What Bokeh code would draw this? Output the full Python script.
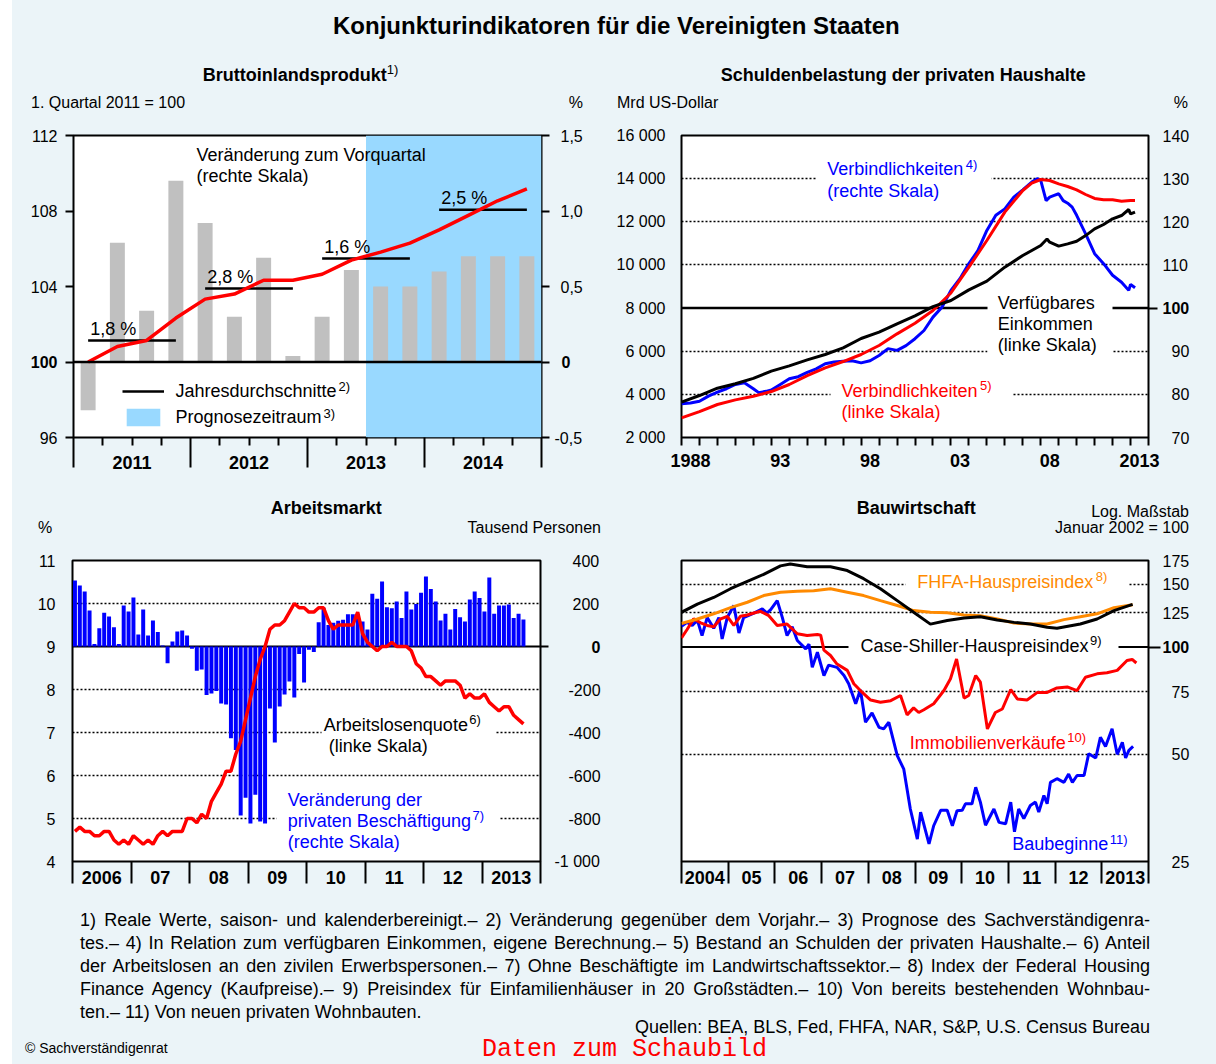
from bokeh.plotting import figure
from bokeh.models import (Range1d, LinearAxis, LogAxis, FixedTicker, Span, Label, LabelSet,
                          ColumnDataSource, BoxAnnotation, Legend, LegendItem, Div,
                          CustomJSTickFormatter)
from bokeh.layouts import column, row
from bokeh.core.properties import value
from bokeh.embed import file_html
from bokeh.resources import INLINE

BG = "#EBF4F8"
FONT = "Liberation Sans"
RED = "#FF0000"
BLUE = "#0000FF"
ORANGE = "#FF8A00"
GREY = "#C0C0C0"
SKY = "#99D9FF"

# ------------------------------------------------------------------ data
# Bruttoinlandsprodukt (Q1 2011 - Q4 2014)
gdp_year = [2011, 2011, 2011, 2011, 2012, 2012, 2012, 2012, 2013, 2013, 2013, 2013, 2014, 2014, 2014, 2014]
gdp_quarter = [1, 2, 3, 4, 1, 2, 3, 4, 1, 2, 3, 4, 1, 2, 3, 4]
gdp_change = [-0.32, 0.79, 0.34, 1.20, 0.92, 0.30, 0.69, 0.04, 0.30, 0.61, 0.50, 0.50, 0.60, 0.70, 0.70, 0.70]
gdp_index = [100.0, 100.82, 101.14, 102.33, 103.33, 103.6, 104.33, 104.33, 104.65, 105.4, 105.82, 106.3,
             107.0, 107.77, 108.54, 109.17]
avg_year = [2011, 2012, 2013, 2014]
avg_level = [101.14, 103.90, 105.49, 108.07]
avg_text = ["1,8 %", "2,8 %", "1,6 %", "2,5 %"]
forecast_from = (2013, 3)
gdp_ticks = [96, 100, 104, 108, 112]
pct_ticks = [1.5, 1.0, 0.5, 0, -0.5]
pct_text = ["1,5", "1,0", "0,5", "0", "-0,5"]
gdp_year_text = ["2011", "2012", "2013", "2014"]

# Schuldenbelastung der privaten Haushalte
inc_year = [1988, 1989, 1990, 1991, 1992, 1993, 1994, 1995, 1996, 1997, 1998, 1999, 2000, 2001, 2002, 2003,
            2004, 2005, 2006, 2007, 2008, 2008.35, 2008.5, 2009, 2009.5, 2010, 2010.5, 2011, 2011.5, 2012,
            2012.5, 2012.9, 2013.0, 2013.25]
inc_val = [3640, 3946, 4286, 4490, 4740, 5075, 5322, 5600, 5847, 6156, 6590, 6882, 7270, 7640, 8070, 8350,
           8845, 9247, 9896, 10437, 10900, 11200, 11055, 10870, 10977, 11100, 11360, 11670, 11874, 12137,
           12290, 12570, 12370, 12450]
debt_year = [1988, 1989, 1990, 1991, 1992, 1993, 1994, 1995, 1996, 1997, 1998, 1999, 2000, 2001, 2002, 2003,
             2004, 2005, 2006, 2007, 2007.5, 2008, 2008.5, 2009, 2009.5, 2010, 2010.5, 2011, 2011.5, 2012,
             2012.5, 2013, 2013.25]
debt_val = [2910, 3200, 3530, 3745, 3915, 4130, 4456, 4870, 5230, 5522, 5847, 6264, 6805, 7300, 7887, 8700,
            9896, 11132, 12446, 13450, 13790, 13960, 13914, 13760, 13636, 13480, 13265, 13080, 13020, 13020,
            12955, 12987, 12987]
ratio_year = [1988, 1988.5, 1989, 1989.5, 1990, 1990.5, 1991, 1991.5, 1992, 1992.3, 1992.7, 1993, 1993.5,
              1994, 1994.5, 1995, 1995.5, 1996, 1996.5, 1997, 1997.5, 1998, 1998.5, 1999, 1999.5, 2000,
              2000.5, 2001, 2001.5, 2002, 2002.5, 2003, 2003.5, 2004, 2004.5, 2005, 2005.5, 2006, 2006.5,
              2007, 2007.5, 2007.8, 2008, 2008.3, 2008.5, 2008.75, 2009, 2009.25, 2009.5, 2009.75, 2010,
              2010.5, 2011, 2011.5, 2012, 2012.5, 2012.9, 2013, 2013.25]
ratio_val = [77.8, 78.0, 78.4, 79.6, 80.5, 81.3, 82.3, 82.7, 81.3, 80.4, 80.7, 81.0, 82.3, 83.6, 84.1, 85.1,
             85.9, 87.1, 87.5, 87.7, 87.8, 87.3, 87.8, 89.0, 90.6, 90.2, 91.3, 92.9, 94.8, 97.9, 100.2,
             104.1, 106.8, 110.3, 113.3, 118.0, 121.5, 123.0, 125.7, 127.4, 129.2, 130.0, 129.6, 124.9,
             125.7, 126.1, 126.5, 124.9, 124.3, 123.4, 121.5, 117.2, 112.6, 110.3, 107.6, 106.0, 104.1,
             105.5, 104.7]
debt_ticks = [2000, 4000, 6000, 8000, 10000, 12000, 14000, 16000]
ratio_ticks = [140, 130, 120, 110, 100, 90, 80, 70]
debt_year_ticks = [1988, 1993, 1998, 2003, 2008, 2013]
debt_year_text = ["1988", "93", "98", "03", "08", "2013"]

# Arbeitsmarkt (monthly, Jan 2006 - Sep 2013)
emp_start = 2006
emp_change = [307, 284, 256, 167, 12, 85, 157, 140, 90, 12, 191, 163,
              228, 56, 172, 51, 121, 67, 5, -78, 23, 70, 74, 51,
              -10, -113, -107, -225, -219, -207, -265, -270, -427, -481, -786, -703,
              -823, -690, -814, -823, -288, -447, -279, -223, -163, -237, -35, -168,
              -15, -26, 113, 180, 100, 110, 120, 125, 150, 150, 130, 116,
              79, 245, 222, 302, 183, 178, 209, 132, 256, 172, 198, 250,
              326, 267, 209, 121, 152, 79, 175, 136, 116, 219, 256, 226,
              163, 321, 152, 191, 191, 195, 132, 152, 126]
unemp_rate = [4.7, 4.8, 4.7, 4.7, 4.6, 4.6, 4.7, 4.7, 4.5, 4.4, 4.5, 4.4,
              4.6, 4.5, 4.4, 4.5, 4.4, 4.6, 4.7, 4.6, 4.7, 4.7, 4.7, 5.0,
              5.0, 4.9, 5.1, 5.0, 5.4, 5.6, 5.8, 6.1, 6.1, 6.5, 6.8, 7.3,
              7.8, 8.3, 8.7, 9.0, 9.4, 9.5, 9.5, 9.6, 9.8, 10.0, 9.9, 9.9,
              9.8, 9.8, 9.9, 9.9, 9.6, 9.4, 9.5, 9.5, 9.5, 9.5, 9.8, 9.3,
              9.1, 9.0, 8.9, 9.0, 9.0, 9.1, 9.0, 9.0, 9.0, 8.9, 8.6, 8.5,
              8.3, 8.3, 8.2, 8.1, 8.2, 8.2, 8.2, 8.1, 7.8, 7.9, 7.8, 7.8,
              7.9, 7.7, 7.6, 7.5, 7.6, 7.6, 7.4, 7.3, 7.2]
rate_ticks = [4, 5, 6, 7, 8, 9, 10, 11]
emp_ticks = [400, 200, 0, -200, -400, -600, -800, -1000]
emp_text = ["400", "200", "0", "-200", "-400", "-600", "-800", "-1 000"]
lab_year_text = ["2006", "07", "08", "09", "10", "11", "12", "2013"]

# Bauwirtschaft (Januar 2002 = 100, log scale)
cs_year = [2004.00, 2004.34, 2004.69, 2005.05, 2005.41, 2005.76, 2006.12, 2006.33, 2006.69, 2007.19, 2007.55,
           2007.90, 2008.26, 2008.62, 2008.97, 2009.33, 2009.69, 2010.05, 2010.40, 2010.76, 2011.12, 2011.47,
           2011.83, 2012.04, 2012.54, 2012.90, 2013.26, 2013.66]
cs_val = [125.2, 132.0, 137.8, 145.8, 153.0, 160.0, 169.0, 171.0, 168.0, 168.0, 164.0, 155.6, 145.8, 135.0,
          125.2, 116.0, 118.7, 120.7, 121.7, 119.1, 117.3, 116.1, 113.6, 113.0, 116.1, 119.9, 126.5, 131.8]
fhfa_year = [2004.00, 2004.34, 2004.69, 2005.05, 2005.41, 2005.76, 2006.12, 2006.48, 2006.83, 2007.19, 2007.55,
             2007.90, 2008.26, 2008.62, 2008.97, 2009.33, 2009.69, 2010.05, 2010.40, 2010.76, 2011.12, 2011.47,
             2011.83, 2012.19, 2012.54, 2012.90, 2013.26, 2013.66]
fhfa_val = [116.5, 119.9, 124.0, 129.0, 133.6, 139.5, 142.6, 143.5, 144.0, 145.8, 142.6, 139.5, 135.0, 130.8,
            126.6, 125.2, 124.8, 123.0, 122.5, 119.9, 116.8, 116.1, 116.1, 119.4, 121.7, 124.0, 129.0, 131.5]
sales_year = [2004.00, 2004.12, 2004.26, 2004.41, 2004.55, 2004.69, 2004.84, 2004.98, 2005.12, 2005.26,
              2005.41, 2005.55, 2005.69, 2005.87, 2006.05, 2006.26, 2006.48, 2006.69, 2006.91, 2006.98,
              2007.05, 2007.19, 2007.33, 2007.55, 2007.69, 2007.83, 2008.05, 2008.26, 2008.48, 2008.69,
              2008.83, 2008.97, 2009.08, 2009.19, 2009.40, 2009.62, 2009.76, 2009.89, 2010.05, 2010.15,
              2010.30, 2010.40, 2010.55, 2010.72, 2010.87, 2011.05, 2011.19, 2011.40, 2011.62, 2011.83,
              2012.04, 2012.26, 2012.47, 2012.65, 2012.90, 2013.11, 2013.33, 2013.54, 2013.65, 2013.74]
sales_val = [106, 112, 120, 117, 115, 114, 120, 122, 115, 122, 123, 124.6, 126, 122.5, 115, 116, 109, 107.7,
             108.5, 108, 98, 94.7, 89.6, 86, 78.9, 75.5, 71, 70, 70.7, 73.1, 64.5, 67.5, 65.5, 66.7, 69.3,
             75.5, 81.5, 92.6, 71.9, 73.1, 83.2, 79.7, 58.9, 65.5, 67, 76, 71.5, 71, 74.6, 74.6, 76.8, 77.3,
             75.5, 82.3, 84.1, 84.7, 86, 91.7, 92.3, 90.2]
starts_year = [2004.00, 2004.12, 2004.23, 2004.34, 2004.44, 2004.55, 2004.69, 2004.80, 2004.87, 2004.98,
               2005.12, 2005.23, 2005.33, 2005.55, 2005.73, 2005.83, 2005.91, 2006.05, 2006.16, 2006.26,
               2006.37, 2006.48, 2006.66, 2006.73, 2006.80, 2006.91, 2007.05, 2007.15, 2007.33, 2007.48,
               2007.58, 2007.73, 2007.83, 2007.94, 2008.08, 2008.23, 2008.33, 2008.44, 2008.62, 2008.76,
               2008.90, 2009.05, 2009.12, 2009.30, 2009.40, 2009.55, 2009.69, 2009.80, 2009.90, 2010.01,
               2010.08, 2010.22, 2010.30, 2010.40, 2010.51, 2010.69, 2010.80, 2010.94, 2011.05, 2011.13,
               2011.22, 2011.33, 2011.47, 2011.58, 2011.65, 2011.76, 2011.83, 2011.90, 2012.04, 2012.19,
               2012.29, 2012.37, 2012.47, 2012.62, 2012.72, 2012.87, 2012.97, 2013.08, 2013.22, 2013.33,
               2013.44, 2013.51, 2013.58, 2013.67]
starts_val = [114.4, 117.3, 114.9, 119, 107.7, 121, 112.9, 121, 105.4, 121, 130.8, 109.5, 121, 124.6, 128,
              124.6, 127.4, 135, 121, 107.7, 114, 104.3, 98.8, 101.9, 87.7, 96.7, 83.2, 89, 87.7, 83.2,
              78.9, 69.3, 75.9, 61.5, 65.3, 59.5, 58.9, 61.5, 49.6, 45.4, 35.1, 28.9, 34.4, 28, 31.5, 34.8,
              34.8, 31.5, 34.7, 34.8, 36.3, 36.3, 40.4, 36.7, 31.6, 35.1, 32.2, 31.9, 36.7, 30.3, 35.1, 33,
              35.9, 36.7, 34.4, 38.3, 36.3, 41.7, 42.7, 41.7, 44, 41.7, 43.6, 43.6, 50.2, 48.8, 55.8, 52.6,
              59, 50, 54, 48.8, 51.3, 52.6]
bau_ticks = [175, 150, 125, 100, 75, 50, 25]
bau_year_text = ["2004", "05", "06", "07", "08", "09", "10", "11", "12", "2013"]

footnotes = [
    "1) Reale Werte, saison- und kalenderbereinigt.\u2013 2) Veränderung gegenüber dem Vorjahr.\u2013 3) Prognose des Sachverständigenra-",
    "tes.\u2013 4) In Relation zum verfügbaren Einkommen, eigene Berechnung.\u2013 5) Bestand an Schulden der privaten Haushalte.\u2013 6) Anteil",
    "der Arbeitslosen an den zivilen Erwerbspersonen.\u2013 7) Ohne Beschäftigte im Landwirtschaftssektor.\u2013 8) Index der Federal Housing",
    "Finance Agency (Kaufpreise).\u2013 9) Preisindex für Einfamilienhäuser in 20 Großstädten.\u2013 10) Von bereits bestehenden Wohnbau-",
    "ten.\u2013 11) Von neuen privaten Wohnbauten.",
]
sources = "Quellen: BEA, BLS, Fed, FHFA, NAR, S&amp;P, U.S. Census Bureau"

# ------------------------------------------------------------------ helpers
W_REG = {' ': 278, '(': 333, ')': 333, ',': 278, '-': 333, '.': 278, '%': 889, '=': 584, ':': 278,
         'A': 667, 'B': 667, 'C': 722, 'D': 722, 'E': 667, 'F': 611, 'G': 778, 'H': 722, 'I': 278,
         'J': 500, 'K': 667, 'L': 556, 'M': 833, 'N': 722, 'O': 778, 'P': 667, 'Q': 778, 'R': 722,
         'S': 667, 'T': 611, 'U': 722, 'V': 667, 'W': 944,
         'a': 556, 'b': 556, 'c': 500, 'd': 556, 'e': 556, 'f': 278, 'g': 556, 'h': 556, 'i': 222,
         'j': 222, 'k': 500, 'l': 222, 'm': 833, 'n': 556, 'o': 556, 'p': 556, 'q': 556, 'r': 333,
         's': 500, 't': 278, 'u': 556, 'v': 500, 'w': 722, 'x': 500, 'y': 500, 'z': 500,
         'ä': 556, 'ö': 556, 'ü': 556, 'ß': 611}


def tw(s, size):
    return sum(W_REG.get(ch, 556) for ch in s) * size / 1000.0


BLANK = CustomJSTickFormatter(code="return ''")
LEFT0 = 12          # white strip left of the chart
TOTAL_W = 1204
PAD = 3.6           # extra extent bokeh adds to each labelled vertical axis


def key(v):
    return int(v) if float(v).is_integer() else v


def setup_axis(ax, ticks, texts=None, tick_out=0, standoff=0, size="16px", bold=False,
               minor=None, minor_out=0):
    ax.ticker = FixedTicker(ticks=ticks, minor_ticks=minor or [])
    ax.major_tick_out = tick_out
    ax.major_tick_in = 0
    ax.major_tick_line_width = 2
    ax.major_tick_line_color = "black" if tick_out > 0 else None
    ax.minor_tick_in = 0
    ax.minor_tick_out = minor_out
    ax.minor_tick_line_width = 2
    ax.minor_tick_line_color = "black" if minor_out > 0 else None
    ax.axis_line_color = None
    ax.major_label_text_font = FONT
    ax.major_label_text_color = "black"
    ax.major_label_standoff = standoff
    ax.major_label_text_font_style = "bold" if bold else "normal"
    if texts is None:
        ax.formatter = BLANK
        ax.major_label_text_font_size = "0px"
    else:
        ax.major_label_text_font_size = size
        ax.major_label_overrides = {key(v): t for v, t in zip(ticks, texts)}


def stack_axes(p, side, groups, y_range_name="default", log=False, first=None):
    """groups: (ticks, texts, tick_out, bold, anchor) ; anchor = label edge nearest to the frame
    measured from the frame (left edge for right axes, right edge for left axes)."""
    C = 0.0
    for i, (ticks, texts, tick_out, bold, anchor) in enumerate(groups):
        W = max(tw(t, 16) for t in texts)
        s = int(round(anchor - C - tick_out))
        if i == 0 and first is not None:
            ax = first
        else:
            ax = (LogAxis if log else LinearAxis)(y_range_name=y_range_name)
        setup_axis(ax, ticks, texts, tick_out=tick_out, standoff=s, bold=bold)
        if not (i == 0 and first is not None):
            p.add_layout(ax, side)
        C += tick_out + s + W + PAD


def right_groups(ticks, texts, bold_val, tick_vals, tick_out, R):
    """Right-aligned labels at distance R from the frame, built from width groups."""
    groups = []
    bt = [t for v, t in zip(ticks, texts) if v == bold_val][0]
    groups.append((tick_vals, [bt if v == bold_val else "" for v in tick_vals], tick_out, True,
                   R - tw(bt, 16)))
    widths = {}
    for v, t in zip(ticks, texts):
        if v == bold_val:
            continue
        widths.setdefault(round(tw(t, 16), 1), []).append((v, t))
    for w in sorted(widths, reverse=True):
        vs = [v for v, _ in widths[w]]
        ts = [t for _, t in widths[w]]
        groups.append((vs, ts, 0, False, R - w))
    return groups


def make_fig(fw, fh, bl, br, bt, bb, xr, yr, ytype="linear"):
    p = figure(frame_width=fw, frame_height=fh, min_border_left=bl, min_border_right=br,
               min_border_top=bt, min_border_bottom=bb, x_range=Range1d(*xr), y_range=Range1d(*yr),
               y_axis_type=ytype, output_backend="svg", toolbar_location=None, tools="",
               background_fill_color="white", border_fill_color=BG,
               outline_line_color="black", outline_line_width=2)
    p.xgrid.visible = False
    p.ygrid.visible = False
    return p


def grid(p, ticks):
    g = p.ygrid[0]
    g.visible = True
    g.ticker = FixedTicker(ticks=ticks)
    g.grid_line_color = "black"
    g.grid_line_dash = "2 2"
    g.grid_line_width = 1.5


class Panel:
    def __init__(self, p, fl, fb):
        self.p, self.fl, self.fb = p, fl, fb

    def text(self, X, Y, t, size=18, color="black", align="left"):
        self.p.add_layout(Label(x=X - self.fl, y=self.fb - Y, x_units="screen", y_units="screen",
                                text=t, text_font=FONT, text_font_size=f"{size}px",
                                text_color=color, text_align=align, text_baseline="middle"))

    def text_sup(self, X, Y, t, s, size=18, color="black"):
        self.text(X, Y, t, size, color)
        self.text(X + tw(t, size) + 1.5, Y - 5, s, 13, color)

    def gap(self, X0, Y0, X1, Y1):
        self.p.add_layout(BoxAnnotation(left=X0 - self.fl, right=X1 - self.fl,
                                        top=self.fb - Y0, bottom=self.fb - Y1,
                                        left_units="screen", right_units="screen",
                                        top_units="screen", bottom_units="screen",
                                        fill_color="white", fill_alpha=1.0, line_color=None,
                                        level="underlay"))


# HTML text helpers (page coordinates -> div coordinates)
CSSF = "font-family:'Liberation Sans',Arial,sans-serif;"


def htext(X, Yc, y0, t, size=16, bold=False, align="left", color="#000"):
    top = Yc - y0 - 0.5885 * size
    lh = 1.2 * size
    fw = "bold" if bold else "normal"
    if align == "right":
        pos = f"right:{TOTAL_W - (X - LEFT0)}px;"
    else:
        pos = f"left:{X - LEFT0}px;"
    return (f'<div style="position:absolute;{pos}top:{top:.1f}px;{CSSF}font-size:{size}px;'
            f'font-weight:{fw};line-height:{lh:.1f}px;white-space:nowrap;color:{color};">{t}</div>')


def sup(t):
    return f'<span style="font-size:13px;position:relative;top:-7px;font-weight:normal;">{t}</span>'


def box(height, inner):
    return (f'<div style="position:relative;width:{TOTAL_W}px;height:{height}px;background:{BG};'
            f'overflow:hidden;">{inner}</div>')


# ------------------------------------------------------------------ panel 1: BIP
gdp_x = [y + (q - 0.5) / 4 for y, q in zip(gdp_year, gdp_quarter)]
x_lo, x_hi = gdp_year[0], gdp_year[-1] + 1
tl = make_fig(468, 302, 61, 71, 10, 53, (x_lo, x_hi), (gdp_ticks[0], gdp_ticks[-1]))
tl.extra_y_ranges = {"pct": Range1d(pct_ticks[-1], pct_ticks[0])}
P1 = Panel(tl, 73, 437)

fc_x = forecast_from[0] + (forecast_from[1] - 1) / 4
fq = tl.quad(left=[fc_x], right=[x_hi], bottom=[gdp_ticks[0]], top=[gdp_ticks[-1]],
             fill_color=SKY, line_color=None)
tl.vbar(x=gdp_x, top=gdp_change, bottom=0, width=0.128, fill_color=GREY, line_color=None,
        y_range_name="pct")
seg = tl.segment(x0=[y + 0.125 for y in avg_year], y0=avg_level, x1=[y + 0.875 for y in avg_year],
                 y1=avg_level, line_color="black", line_width=2.5)
tl.line(gdp_x, gdp_index, line_color=RED, line_width=3.5)
tl.add_layout(Span(location=100, dimension="width", line_color="black", line_width=2.5))

src_avg = ColumnDataSource(dict(x=[y + 0.125 for y in avg_year], y=avg_level, t=avg_text))
tl.add_layout(LabelSet(x="x", y="y", text="t", source=src_avg, x_offset=2, y_offset=11.5,
                       text_font=value(FONT), text_font_size=value("18px"), text_color=value("black"),
                       text_baseline=value("middle"), text_align=value("left")))

# left axis: bold "100" with ticks, then the other labels
stack_axes(tl, "left", [
    (gdp_ticks, ["100" if v == 100 else "" for v in gdp_ticks], 8, True, 16),
    ([v for v in gdp_ticks if v != 100], [str(v) for v in gdp_ticks if v != 100], 0, False, 16),
], first=tl.yaxis[0])
# right axis: ticks + bold "0", then width groups right-aligned at 583
tl_r = [(pct_ticks, ["0" if v == 0 else "" for v in pct_ticks], 8, True, 20),
        ([1.5, 1.0, 0.5], ["1,5", "1,0", "0,5"], 0, False, 42 - tw("1,5", 16)),
        ([-0.5], ["-0,5"], 0, False, 42 - tw("-0,5", 16))]
stack_axes(tl, "right", tl_r, y_range_name="pct")
# x axis: A = separators + quarter ticks, B = year labels
setup_axis(tl.xaxis[0], list(range(x_lo, x_hi + 1)), None, tick_out=30,
           minor=[y + k / 4 for y in range(x_lo, x_hi) for k in (1, 2, 3)], minor_out=8)
axB = LinearAxis()
setup_axis(axB, [y + 0.5 for y in range(x_lo, x_hi)], gdp_year_text, standoff=-12, size="18px", bold=True)
tl.add_layout(axB, "below")

leg = Legend(items=[LegendItem(label="Jahresdurchschnitte", renderers=[seg]),
                    LegendItem(label="Prognosezeitraum", renderers=[fq])],
             location=(121.5 - 73, 437 - 428), orientation="vertical",
             background_fill_alpha=0, border_line_color=None, padding=0, spacing=4, margin=0,
             glyph_width=42, glyph_height=22, label_height=22, label_standoff=12,
             label_text_font=FONT, label_text_font_size="18px", label_text_color="black")
tl.add_layout(leg)
P1.text(175.5 + tw("Jahresdurchschnitte", 18) + 1.5, 386, "2)", 13)
P1.text(175.5 + tw("Prognosezeitraum", 18) + 1.5, 413, "3)", 13)
P1.text(196, 154, "Veränderung zum Vorquartal")
P1.text(196, 175, "(rechte Skala)")

# ------------------------------------------------------------------ panel 2: Schulden
tr = make_fig(467, 302, 69, 67, 10, 53, (debt_year_ticks[0], debt_year_ticks[-1] + 1),
              (debt_ticks[0], debt_ticks[-1]))
tr.extra_y_ranges = {"ratio": Range1d(ratio_ticks[-1], ratio_ticks[0])}
P2 = Panel(tr, 681, 437)
grid(tr, [t for t in debt_ticks[1:-1] if t != 8000])
tr.add_layout(Span(location=8000, dimension="width", line_color="black", line_width=2.5, level="underlay"))
P2.gap(816, 158, 991, 200)
P2.gap(830, 382, 1012, 405)
P2.gap(987, 285, 1112, 360)

tr.line(ratio_year, ratio_val, line_color=BLUE, line_width=3, y_range_name="ratio")
tr.line(debt_year, debt_val, line_color=RED, line_width=3)
tr.line(inc_year, inc_val, line_color="black", line_width=3)

setup_axis(tr.yaxis[0], debt_ticks, [f"{t:,}".replace(",", " ") for t in debt_ticks], standoff=16)
stack_axes(tr, "right", right_groups(ratio_ticks, [str(v) for v in ratio_ticks], 100, [100], 9, 41),
           y_range_name="ratio")
setup_axis(tr.xaxis[0], list(range(debt_year_ticks[0], debt_year_ticks[-1] + 2)), None, tick_out=8)
axB = LinearAxis()
setup_axis(axB, [y + 0.5 for y in debt_year_ticks], debt_year_text, standoff=8, size="18px", bold=True)
tr.add_layout(axB, "below")

P2.text_sup(826.7, 168.7, "Verbindlichkeiten", "4)", color=BLUE)
P2.text(826.7, 190.7, "(rechte Skala)", color=BLUE)
P2.text_sup(841, 390, "Verbindlichkeiten", "5)", color=RED)
P2.text(841, 411, "(linke Skala)", color=RED)
P2.text(997.3, 302, "Verfügbares")
P2.text(997.3, 323, "Einkommen")
P2.text(997.3, 344, "(linke Skala)")

# ------------------------------------------------------------------ panel 3: Arbeitsmarkt
emp_x = [emp_start + (m + 0.5) / 12 for m in range(len(emp_change))]
rate_x = [emp_start + (m + 0.5) / 12 for m in range(len(unemp_rate))]
n_years = len(lab_year_text)
bl = make_fig(468, 301, 60, 75, 10, 39, (emp_start, emp_start + n_years), (rate_ticks[0], rate_ticks[-1]))
bl.extra_y_ranges = {"emp": Range1d(emp_ticks[-1], emp_ticks[0])}
P3 = Panel(bl, 72, 861)
grid(bl, [5, 6, 7, 8, 10])
bl.add_layout(Span(location=9, dimension="width", line_color="black", line_width=2, level="underlay"))
P3.gap(321, 723, 495, 741)
P3.gap(276, 810, 499, 827)

bl.vbar(x=emp_x, top=emp_change, bottom=0, width=0.068, fill_color=BLUE, line_color=None,
        y_range_name="emp")
bl.line(rate_x, unemp_rate, line_color=RED, line_width=3.5)

setup_axis(bl.yaxis[0], rate_ticks, [str(v) for v in rate_ticks], standoff=17)
stack_axes(bl, "right", right_groups(emp_ticks, emp_text, 0, [0], 8, 60), y_range_name="emp")
setup_axis(bl.xaxis[0], list(range(emp_start, emp_start + n_years + 1)), None, tick_out=22)
axB = LinearAxis()
setup_axis(axB, [emp_start + i + 0.5 for i in range(n_years)], lab_year_text, standoff=-13,
           size="18px", bold=True)
bl.add_layout(axB, "below")

P3.text_sup(323.3, 724, "Arbeitslosenquote", "6)")
P3.text(328.3, 745, "(linke Skala)")
P3.text(287.3, 799, "Veränderung der", color=BLUE)
P3.text_sup(287.3, 820, "privaten Beschäftigung", "7)", color=BLUE)
P3.text(287.3, 841, "(rechte Skala)", color=BLUE)

# ------------------------------------------------------------------ panel 4: Bauwirtschaft
bau_x0 = 2004
nb = len(bau_year_text)
br = make_fig(467, 301, 66, 67, 10, 39, (bau_x0, bau_x0 + nb), (bau_ticks[-1], bau_ticks[0]), ytype="log")
P4 = Panel(br, 681, 861)
grid(br, [50, 75, 125, 150])
br.add_layout(Span(location=100, dimension="width", line_color="black", line_width=2, level="underlay"))
P4.gap(905, 574, 1128, 593)
P4.gap(848, 636, 1118, 656)

br.line(starts_year, starts_val, line_color=BLUE, line_width=3)
br.line(sales_year, sales_val, line_color=RED, line_width=3)
br.line(fhfa_year, fhfa_val, line_color=ORANGE, line_width=3)
br.line(cs_year, cs_val, line_color="black", line_width=3)

br.yaxis[0].visible = False
stack_axes(br, "right", right_groups(bau_ticks, [str(v) for v in bau_ticks], 100, [100], 12, 41), log=True)
setup_axis(br.xaxis[0], list(range(bau_x0, bau_x0 + nb + 1)), None, tick_out=22)
axB = LinearAxis()
setup_axis(axB, [bau_x0 + i + 0.5 for i in range(nb)], bau_year_text, standoff=-13, size="18px", bold=True)
br.add_layout(axB, "below")

P4.text_sup(916.7, 581, "FHFA-Hauspreisindex", "8)", color=ORANGE)
P4.text_sup(860, 645, "Case-Shiller-Hauspreisindex", "9)")
P4.text_sup(909.3, 742, "Immobilienverkäufe", "10)", color=RED)
P4.text_sup(1011.7, 843.5, "Baubeginne", "11)", color=BLUE)

# ------------------------------------------------------------------ html strips
top_inner = (htext(333, 26, 0, "Konjunkturindikatoren für die Vereinigten Staaten", 24, bold=True)
             + htext(202.7, 75.5, 0, "Bruttoinlandsprodukt" + sup("1)"), 18, bold=True)
             + htext(31, 102, 0, "1. Quartal 2011 = 100", 16)
             + htext(583, 102, 0, "%", 16, align="right")
             + htext(720.7, 75.5, 0, "Schuldenbelastung der privaten Haushalte", 18, bold=True)
             + htext(617, 102, 0, "Mrd US-Dollar", 16)
             + htext(1188, 102, 0, "%", 16, align="right"))
top_div = Div(text=box(125, top_inner), width=TOTAL_W, height=125, margin=0,
              styles={"background-color": BG})

mid_inner = (htext(270.7, 509, 490, "Arbeitsmarkt", 18, bold=True)
             + htext(38, 527, 490, "%", 16)
             + htext(601, 527, 490, "Tausend Personen", 16, align="right")
             + htext(856.7, 509, 490, "Bauwirtschaft", 18, bold=True)
             + htext(1189, 511, 490, "Log. Maßstab", 16, align="right")
             + htext(1189, 527.5, 490, "Januar 2002 = 100", 16, align="right"))
mid_div = Div(text=box(60, mid_inner), width=TOTAL_W, height=60, margin=0,
              styles={"background-color": BG})

lines = ""
for i, t in enumerate(footnotes):
    al = "left" if i == len(footnotes) - 1 else "justify"
    lines += (f'<div style="position:absolute;left:{80 - LEFT0}px;top:{8.7 + 23 * i:.1f}px;width:1070px;'
              f'height:23px;line-height:23px;white-space:nowrap;text-align:{al};text-align-last:{al};">{t}</div>')
foot_inner = (f'<div style="position:absolute;left:0;top:0;width:{TOTAL_W}px;height:164px;{CSSF}'
              f'font-size:18px;color:#000;">{lines}'
              f'<div style="position:absolute;left:{80 - LEFT0}px;top:115.7px;width:1070px;line-height:23px;'
              f'text-align:right;white-space:nowrap;">{sources}</div>'
              f'<div style="position:absolute;left:{25 - LEFT0}px;top:140.2px;font-size:14px;line-height:16px;'
              f'white-space:nowrap;">© Sachverständigenrat</div>'
              f'<div style="position:absolute;left:{482 - LEFT0}px;top:135.8px;'
              f'font-family:\'Liberation Mono\',\'Courier New\',monospace;'
              f'font-size:25px;line-height:28px;color:#FF0000;white-space:nowrap;">Daten zum Schaubild</div>'
              f'</div>')
foot_div = Div(text=box(164, foot_inner), width=TOTAL_W, height=164, margin=0,
               styles={"background-color": BG})

layout = column(top_div, row(tl, tr, spacing=0), mid_div, row(bl, br, spacing=0), foot_div,
                spacing=0, margin=(0, 0, 0, LEFT0), styles={"background-color": BG})

with open("out.html", "w") as f:
    f.write(file_html(layout, INLINE, title="Konjunkturindikatoren für die Vereinigten Staaten"))
